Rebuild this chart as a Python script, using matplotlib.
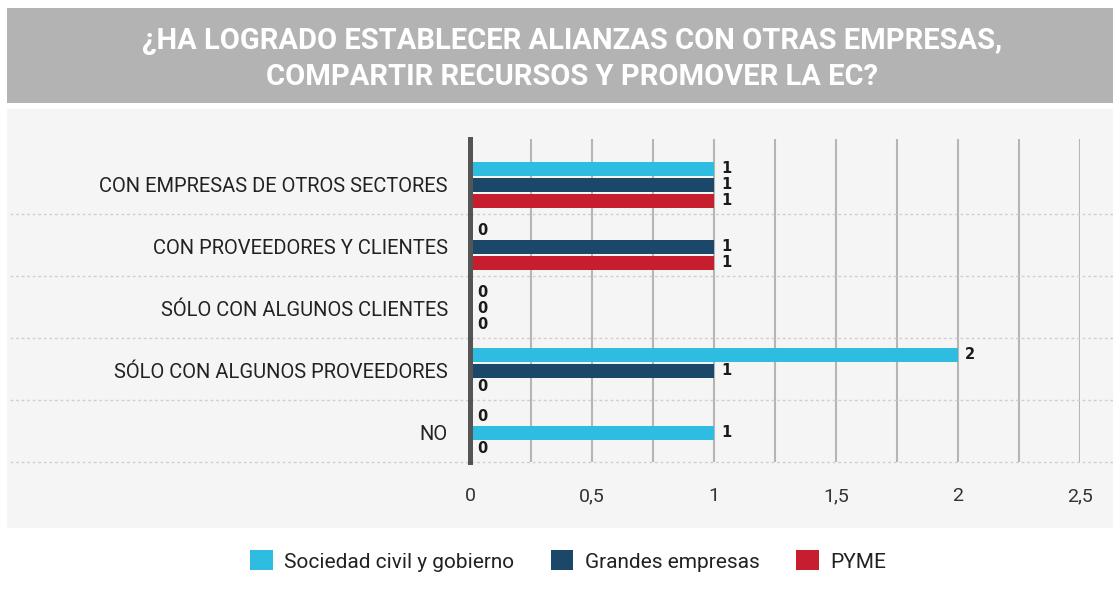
import matplotlib.pyplot as plt
from matplotlib.patches import Rectangle, Patch

# Data
categories = ['CON EMPRESAS DE OTROS SECTORES', 'CON PROVEEDORES Y CLIENTES',
              'SÓLO CON ALGUNOS CLIENTES', 'SÓLO CON ALGUNOS PROVEEDORES', 'NO']
series_names = ['Sociedad civil y gobierno', 'Grandes empresas', 'PYME']
sociedad = [1, 0, 0, 2, 0]
grandes = [1, 1, 0, 1, 1]
pyme = [1, 1, 0, 0, 0]
colors = ['#2ebce0', '#1b4868', '#c61d2f']
# in the source the "NO" bar of Grandes empresas is drawn in cyan
grandes_colors = ['#1b4868', '#1b4868', '#1b4868', '#1b4868', '#2ebce0']
xticks = [0, 0.5, 1, 1.5, 2, 2.5]
xtick_labels = ['0', '0,5', '1', '1,5', '2', '2,5']

plt.rcParams['font.family'] = ['Roboto', 'DejaVu Sans']

W, H = 1113, 593
fig = plt.figure(figsize=(W / 100, H / 100), dpi=100)
fig.patch.set_facecolor('white')

# title band and panel background
fig.patches.append(Rectangle((7 / W, 1 - 103 / H), 1, 95 / H, transform=fig.transFigure,
                             facecolor='#b3b3b3', edgecolor='none', zorder=-2))
fig.patches.append(Rectangle((7 / W, 1 - 528 / H), 1, 419 / H, transform=fig.transFigure,
                             facecolor='#f5f5f5', edgecolor='none', zorder=-2))
fig.text(572 / W, 1 - 59 / H, '¿HA LOGRADO ESTABLECER ALIANZAS CON OTRAS EMPRESAS,\nCOMPARTIR RECURSOS Y PROMOVER LA EC?',
         ha='center', va='center', color='white', fontsize=21, fontweight='bold',
         linespacing=1.35)

ax = fig.add_axes([470 / W, 1 - 462 / H, 610 / W, 323 / H])
ax.set_facecolor('none')
ax.set_zorder(1)

off = [-0.26, 0, 0.26]
h = 0.22
bar_colors = [[colors[0]] * 5, grandes_colors, [colors[2]] * 5]
for s, vals in enumerate([sociedad, grandes, pyme]):
    ys = [i + 0.03 + off[s] for i in range(len(vals))]
    ax.barh(ys, vals, height=h, color=bar_colors[s], zorder=3)
    for y, v in zip(ys, vals):
        ax.annotate(str(v), (v, y), xytext=(7, 0), textcoords='offset pixels',
                    ha='left', va='center', fontsize=10.5, fontweight='bold',
                    family='DejaVu Sans', color='#1a1a1a', zorder=4)

ax.set_xlim(0, 2.5)
ax.set_ylim(4.5, -0.71)
ax.set_yticks([i + 0.03 for i in range(len(categories))])
ax.set_yticklabels(categories, fontsize=14.5, color='#222222')
ax.set_xticks(xticks)
ax.set_xticklabels(xtick_labels, fontsize=14, color='#333333')
ax.tick_params(length=0, axis='y', pad=16)
ax.tick_params(length=0, axis='x', pad=18)

ax.set_xticks([0.25, 0.75, 1.25, 1.75, 2.25], minor=True)
ax.tick_params(which='minor', length=0)
ax.grid(axis='x', which='both', color='#b5b5b5', linewidth=1.5, zorder=1)

for sp in ['top', 'right', 'bottom']:
    ax.spines[sp].set_visible(False)
ax.spines['left'].set_color('#555555')
ax.spines['left'].set_linewidth(3.6)
ax.spines['left'].set_zorder(5)

for yy in [0.5, 1.5, 2.5, 3.5, 4.5]:
    ax.axhline(yy, xmin=(10 - 470) / 610, xmax=(1113 - 470) / 610, color='#cfcfcf',
               linestyle=(0, (2, 2)), linewidth=1, clip_on=False, zorder=2)

handles = [Patch(facecolor=c, edgecolor='none') for c in colors]
fig.legend(handles, series_names, loc='center', bbox_to_anchor=(568 / W, 1 - 561 / H),
           ncol=3, frameon=False, fontsize=15, handlelength=1.1, handleheight=1.1,
           handletextpad=0.55, columnspacing=1.75, labelcolor='#222222')

fig.savefig('out.png', dpi=100)
